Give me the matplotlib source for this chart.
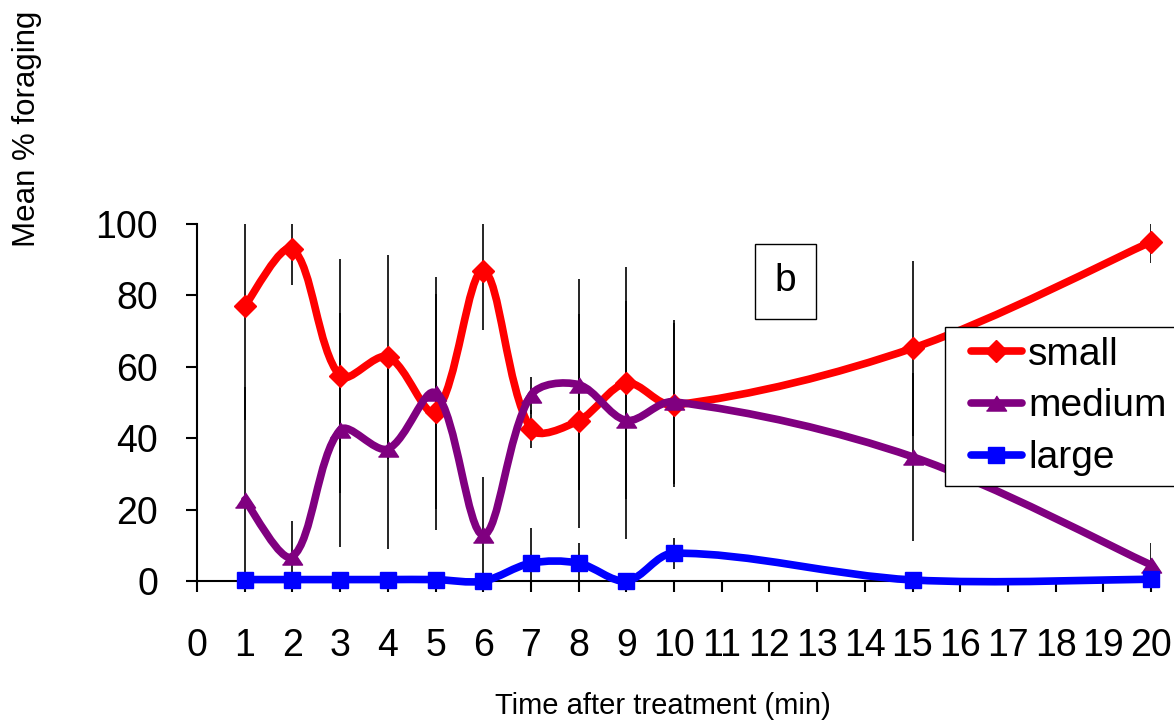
import numpy as np
import matplotlib
matplotlib.use("Agg")
import matplotlib.pyplot as plt
from matplotlib.path import Path
from matplotlib.patches import PathPatch
from matplotlib.lines import Line2D
from matplotlib.legend_handler import HandlerLine2D

plt.rcParams['font.family'] = ['Liberation Sans', 'DejaVu Sans']

# data
times = [1, 2, 3, 4, 5, 6, 7, 8, 9, 10, 15, 20]
small = [77, 93, 57.4, 62.8, 47.4, 86.9, 42.6, 44.9, 55.4, 49.3, 65.2, 95]
medium = [22.7, 6.8, 42.3, 37, 52.6, 12.9, 52, 55, 45, 50.2, 34.8, 4.5]
large = [0.4, 0.4, 0.4, 0.4, 0.4, 0, 5, 5, 0, 7.8, 0.3, 0.5]
small_err = [32, 10, 32.7, 28.5, 33, 16.6, 5.4, 30, 32.5, 23, 24.5, 5.8]
medium_err = [31.6, 10, 32.9, 28.1, 32.5, 16.3, 5.2, 29.5, 33.3, 23, 23.5, 6.1]
large_err = [0, 0, 0, 0, 0, 0, 9.8, 5.6, 0, 4.3, 0, 0]

series = [
    ('small', small, small_err, '#FF0000', 'D', 11),
    ('medium', medium, medium_err, '#800080', [(-1, -0.75), (1, -0.75), (0, 0.75)], 14.5),
    ('large', large, large_err, '#0000FF', 's', 12),
]


def smooth_path(ax, x, y):
    """Excel-like smoothed line: cubic Bezier built in screen space"""
    pts = ax.transData.transform(np.column_stack([x, y]).astype(float))
    verts = [pts[0]]
    codes = [Path.MOVETO]
    n = len(pts)
    for i in range(n - 1):
        p0 = pts[i - 1] if i > 0 else pts[i]
        p1, p2 = pts[i], pts[i + 1]
        p3 = pts[i + 2] if i + 2 < n else pts[i + 1]
        d01 = np.hypot(*(p1 - p0))
        d12 = np.hypot(*(p2 - p1))
        d23 = np.hypot(*(p3 - p2))
        f1 = d12 / (d01 + d12) / 3 if d01 > 0 else 1 / 6
        f2 = d12 / (d12 + d23) / 3 if d23 > 0 else 1 / 6
        verts += [p1 + (p2 - p0) * f1, p2 - (p3 - p1) * f2, p2]
        codes += [Path.CURVE4] * 3
    verts = ax.transData.inverted().transform(np.array(verts))
    return Path(verts, codes)


fig = plt.figure(figsize=(11.74, 7.22), dpi=100)
ax = fig.add_axes([197 / 1174, 1 - 581 / 722, 954 / 1174, 357 / 722])
ax.set_xlim(0, 20)
ax.set_ylim(0, 100)

lw = 5.5
handles = []
for k, (name, vals, errs, color, marker, ms) in enumerate(series):
    ax.errorbar(times, vals, yerr=errs, fmt='none', ecolor='black',
                elinewidth=1.2, capsize=0, zorder=2)
    ax.add_patch(PathPatch(smooth_path(ax, times, vals), fill=False, edgecolor=color,
                           lw=lw, capstyle='round', joinstyle='round',
                           zorder=3 + k, clip_on=False))
    ax.plot(times, vals, linestyle='none', marker=marker, ms=ms, color=color,
            markeredgecolor=color, zorder=3.5 + k, clip_on=False)
    handles.append(Line2D([], [], color=color, lw=lw, marker=marker, ms=ms,
                          markeredgecolor=color, solid_capstyle='round'))

ax.set_xticks(range(0, 21))
ax.set_yticks(range(0, 101, 20))
for s in ['top', 'right']:
    ax.spines[s].set_visible(False)
for s in ['left', 'bottom']:
    ax.spines[s].set_linewidth(1.5)
ax.tick_params(axis='both', direction='out', length=8, width=1.5, labelsize=27)
ax.tick_params(axis='y', pad=20)
ax.tick_params(axis='x', pad=26)

ax.text(0.617, 0.840, 'b', transform=ax.transAxes, fontsize=28,
        ha='center', va='center',
        bbox=dict(boxstyle='square,pad=0.5', fc='white', ec='black', lw=1.0))

# legend box runs past the right edge of the figure, as in the original
leg = fig.legend(handles, ['small', 'medium', 'large'], loc='upper left',
                 bbox_to_anchor=(945 / 1174, 1 - 484 / 722, 260 / 1174, 157 / 722),
                 mode='expand', borderaxespad=0,
                 fontsize=28, handlelength=1.72, handletextpad=0.17,
                 labelspacing=0.405, borderpad=0.25, fancybox=False,
                 framealpha=1, edgecolor='black',
                 handler_map={Line2D: HandlerLine2D(xpad=0.42)})
leg.get_frame().set_linewidth(1.0)

fig.text(27 / 1174, 1 - 129 / 722, 'Mean % foraging', rotation=90,
         ha='center', va='center', fontsize=22.5)
fig.text(663 / 1174, 1 - 706 / 722, 'Time after treatment (min)',
         ha='center', va='center', fontsize=21)

fig.savefig('out.png', dpi=100)
